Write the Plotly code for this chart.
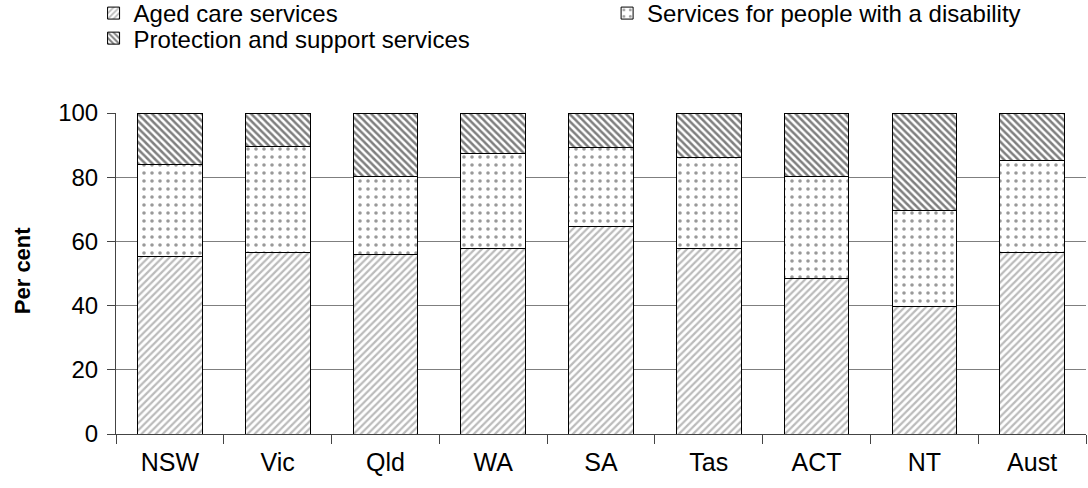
import plotly.graph_objects as go

# Share of government real recurrent expenditure on community services, by jurisdiction
jurisdictions = ["NSW", "Vic", "Qld", "WA", "SA", "Tas", "ACT", "NT", "Aust"]
aged_care = [55.3, 56.5, 56.0, 57.8, 64.5, 57.7, 48.4, 39.7, 56.4]
disability = [28.8, 33.0, 24.2, 29.7, 24.7, 28.3, 31.8, 30.0, 28.7]
protection = [15.9, 10.5, 19.8, 12.5, 10.8, 14.0, 19.8, 30.3, 14.9]

# name, values, fill pattern, legend box
series = [
    ("Aged care services", aged_care,
     dict(shape="/", fgcolor="#777777", bgcolor="white", size=5, solidity=0.45),
     "legend"),
    ("Services for people with a disability", disability,
     dict(shape=".", fgcolor="#333333", bgcolor="white", size=8, solidity=0.16),
     "legend2"),
    ("Protection and support services", protection,
     dict(shape="\\", fgcolor="#000000", bgcolor="white", size=5, solidity=0.5),
     "legend3"),
]

fig = go.Figure()
for name, values, pattern, legend in series:
    fig.add_trace(go.Bar(
        name=name,
        x=jurisdictions,
        y=values,
        legend=legend,
        marker=dict(color="white", pattern=pattern,
                    line=dict(color="black", width=1)),
    ))

font_family = "Liberation Sans, Arial, sans-serif"
legend_style = dict(
    orientation="v",
    xref="container", xanchor="left",
    yref="paper", yanchor="middle",
    font=dict(size=24),
    itemwidth=30,
    bgcolor="rgba(0,0,0,0)",
)

fig.update_layout(
    width=1088,
    height=488,
    barmode="stack",
    bargap=0.4,
    plot_bgcolor="white",
    paper_bgcolor="white",
    margin=dict(l=116, r=2, t=113, b=54, autoexpand=False),
    font=dict(family=font_family, size=24, color="black"),
    showlegend=True,
    legend=dict(legend_style, x=0.086, y=1.31),
    legend2=dict(legend_style, x=0.558, y=1.31),
    legend3=dict(legend_style, x=0.086, y=1.232),
    xaxis=dict(
        showgrid=False,
        showline=True, linecolor="#444444", linewidth=1,
        ticks="outside", tickson="boundaries", ticklen=9, tickcolor="#444444",
        tickfont=dict(size=25),
        ticklabelstandoff=6,
    ),
    yaxis=dict(
        range=[0, 100],
        dtick=20,
        showgrid=True, gridcolor="#7f7f7f", gridwidth=1,
        showline=True, linecolor="#444444", linewidth=1,
        ticks="outside", ticklen=8, tickcolor="#444444",
        tickfont=dict(size=24),
        ticklabelstandoff=4,
        zeroline=False,
    ),
    annotations=[dict(
        text="<b>Per cent</b>",
        xref="paper", yref="paper",
        x=-0.097, y=0.51,
        xanchor="center", yanchor="middle",
        textangle=-90,
        showarrow=False,
        font=dict(size=22),
    )],
)

fig.write_html("out.html")
